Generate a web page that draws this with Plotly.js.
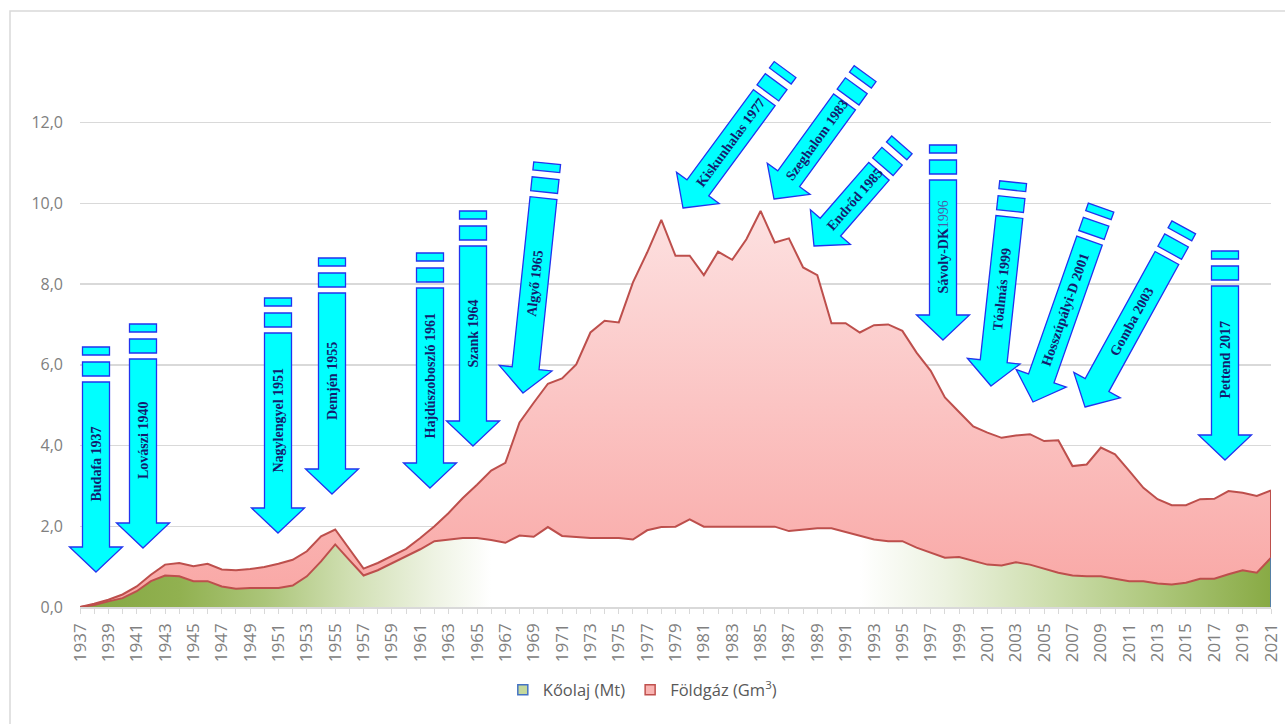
<!DOCTYPE html>
<html>
<head>
<meta charset="utf-8">
<script src="https://cdn.plot.ly/plotly-3.0.1.min.js"></script>
<style>html,body{margin:0;padding:0;background:#fff;}#chart{width:1285px;height:724px;}</style>
</head>
<body>
<div id="chart"></div>
<script>
// ---- data ----
const years = [1937,1938,1939,1940,1941,1942,1943,1944,1945,1946,1947,1948,1949,1950,1951,1952,1953,1954,1955,1956,
1957,1958,1959,1960,1961,1962,1963,1964,1965,1966,1967,1968,1969,1970,1971,1972,1973,1974,1975,1976,
1977,1978,1979,1980,1981,1982,1983,1984,1985,1986,1987,1988,1989,1990,1991,1992,1993,1994,1995,1996,
1997,1998,1999,2000,2001,2002,2003,2004,2005,2006,2007,2008,2009,2010,2011,2012,2013,2014,2015,2016,
2017,2018,2019,2020,2021];
const oilMt = [0.00,0.05,0.14,0.22,0.39,0.64,0.78,0.76,0.64,0.64,0.51,0.45,0.47,0.47,0.47,0.53,0.76,1.13,1.55,1.16,
0.78,0.91,1.08,1.24,1.43,1.63,1.67,1.71,1.71,1.66,1.59,1.77,1.74,1.98,1.76,1.74,1.71,1.71,1.71,1.67,
1.90,1.98,1.99,2.17,1.99,1.99,1.99,1.99,1.99,1.99,1.88,1.92,1.95,1.95,1.86,1.76,1.67,1.63,1.63,1.47,
1.34,1.22,1.24,1.14,1.05,1.03,1.11,1.05,0.95,0.85,0.78,0.76,0.76,0.70,0.64,0.64,0.58,0.56,0.60,0.70,
0.70,0.81,0.91,0.85,1.22];
const gasGm3 = [0.00,0.03,0.04,0.09,0.12,0.16,0.27,0.33,0.37,0.43,0.42,0.46,0.47,0.52,0.60,0.64,0.62,0.62,0.37,0.28,
0.17,0.18,0.18,0.20,0.28,0.37,0.66,0.99,1.32,1.72,1.98,2.80,3.32,3.55,3.90,4.27,5.09,5.38,5.34,6.37,
6.88,7.61,6.71,6.53,6.23,6.81,6.61,7.12,7.82,7.04,7.25,6.49,6.27,5.08,5.17,5.04,5.31,5.37,5.21,4.83,
4.51,3.97,3.59,3.33,3.27,3.16,3.14,3.23,3.16,3.28,2.71,2.77,3.19,3.08,2.73,2.31,2.09,1.96,1.92,1.97,
1.98,2.06,1.92,1.90,1.67];
const seriesNames = ['Kőolaj (Mt)', 'Földgáz (Gm<sup>3</sup>)'];
const yTicks = [0,2,4,6,8,10,12];

// discovery labels for the arrows
const fieldLabels = ['Budafa 1937','Lovászi 1940','Nagylengyel 1951','Demjén 1955','Hajdúszoboszló 1961','Szank 1964',
  'Algyő 1965','Kiskunhalas 1977','Szeghalom 1983','Endrőd 1985','Sávoly-DK 1996','Tóalmás 1999',
  'Hosszúpályi-D 2001','Gomba 2003','Pettend 2017'];

// ---- layout geometry ----
const WIDTH = 1285, HEIGHT = 724;
const M = {l: 80, r: 14, t: 22, b: 117};
const PW = WIDTH - M.l - M.r, PH = HEIGHT - M.t - M.b;
function toPaper(x, y) { return [(x - M.l) / PW, (HEIGHT - M.b - y) / PH]; }

// arrow decoration placement (pixel tip, tilt in degrees, total length)
const arrowPlacement = [
  {tip:[96,572], tilt:0, len:225},
  {tip:[143,548], tilt:0, len:224},
  {tip:[278,533], tilt:0, len:235},
  {tip:[332,494], tilt:0, len:236},
  {tip:[430,488], tilt:0, len:235},
  {tip:[473,446], tilt:0, len:235},
  {tip:[523,393], tilt:6, len:231},
  {tip:[683,208], tilt:36.4, len:172},
  {tip:[774,199], tilt:36, len:155},
  {tip:[814,246], tilt:41, len:134},
  {tip:[943,340], tilt:0, len:195},
  {tip:[991,386], tilt:6.2, len:205},
  {tip:[1033,402], tilt:19.3, len:206},
  {tip:[1085,407], tilt:28.8, len:205},
  {tip:[1225,460], tilt:0, len:209}
];

const ARROW_FILL = '#00ffff', ARROW_LINE = '#2233ee';
const shapes = [];
const annotations = [];

function pathOf(pts) {
  return 'M ' + pts.map(p => { const q = toPaper(p[0], p[1]); return q[0].toFixed(5) + ',' + q[1].toFixed(5); }).join(' L ') + ' Z';
}

arrowPlacement.forEach((a, i) => {
  const phi = a.tilt * Math.PI / 180;
  const u = [Math.sin(phi), -Math.cos(phi)];   // tip -> tail
  const p = [Math.cos(phi), Math.sin(phi)];    // perpendicular
  const T = a.tip;
  const add = (P, k, v) => [P[0] + k * v[0], P[1] + k * v[1]];
  const headLen = 25, headHalf = 26.5, shaftHalf = 13.5;
  const shaftLen = a.len - 60;
  const Hb = add(T, headLen, u);
  const S = add(Hb, shaftLen, u);
  const arrowPts = [
    T,
    add(Hb, headHalf, p),
    add(Hb, shaftHalf, p),
    add(S, shaftHalf, p),
    add(S, -shaftHalf, p),
    add(Hb, -shaftHalf, p),
    add(Hb, -headHalf, p)
  ];
  shapes.push({type:'path', xref:'paper', yref:'paper', path: pathOf(arrowPts),
    fillcolor: ARROW_FILL, line:{color: ARROW_LINE, width:1.3}, layer:'above'});
  const rect = (from, to) => {
    const A = add(S, from, u), B = add(S, to, u);
    return [add(A, shaftHalf, p), add(B, shaftHalf, p), add(B, -shaftHalf, p), add(A, -shaftHalf, p)];
  };
  shapes.push({type:'path', xref:'paper', yref:'paper', path: pathOf(rect(6, 20)),
    fillcolor: ARROW_FILL, line:{color: ARROW_LINE, width:1.3}, layer:'above'});
  shapes.push({type:'path', xref:'paper', yref:'paper', path: pathOf(rect(27, 35)),
    fillcolor: ARROW_FILL, line:{color: ARROW_LINE, width:1.3}, layer:'above'});

  const C = add(Hb, shaftLen / 2, u);
  const cp = toPaper(C[0], C[1]);
  const ang = Math.atan2(-Math.cos(phi), Math.sin(phi)) * 180 / Math.PI;
  const label = fieldLabels[i];
  let txt;
  if (label.indexOf('Sávoly') === 0) {
    const parts = label.split(' ');
    txt = '<b>' + parts[0] + '</b><span style="color:#4a5ca6">' + parts[1] + '</span>';
  } else {
    txt = '<b>' + label + '</b>';
  }
  annotations.push({xref:'paper', yref:'paper', x: cp[0], y: cp[1], text: txt, showarrow:false,
    textangle: ang, xanchor:'center', yanchor:'middle',
    font:{family:'Liberation Serif, Times New Roman, serif', size:14, color:'#141c6e'}});
});

// outer frame
(function(){
  const a = toPaper(10, 11), b = toPaper(1300, 735);
  shapes.unshift({type:'rect', xref:'paper', yref:'paper', x0:a[0], y0:b[1], x1:b[0], y1:a[1],
    line:{color:'#d9d9d9', width:1.5}, fillcolor:'rgba(0,0,0,0)', layer:'below'});
})();

// right edge outlines at the last year
const lastYear = years[years.length - 1];
const lastOil = oilMt[oilMt.length - 1];
const lastTotal = lastOil + gasGm3[gasGm3.length - 1];
shapes.push({type:'line', xref:'x', yref:'y', x0:lastYear, x1:lastYear, y0:0, y1:lastOil,
  line:{color:'#4472c4', width:1.5}, layer:'above'});
shapes.push({type:'line', xref:'x', yref:'y', x0:lastYear, x1:lastYear, y0:lastOil, y1:lastTotal,
  line:{color:'#bd4f4c', width:2}, layer:'above'});

const yr = v => (v - years[0]) / (lastYear - years[0]);
const traces = [
  {x: years, y: oilMt, type:'scatter', mode:'lines', stackgroup:'prod', name: seriesNames[0], showlegend:false,
   line:{color:'#bd4f4c', width:2, shape:'linear'},
   fillgradient:{type:'horizontal', start: years[0], stop: lastYear, colorscale:[
     [0,'#84a641'],[yr(1944),'#91b150'],[yr(1950),'#abc579'],[yr(1956),'#d0dfb2'],[yr(1962),'#eef3e3'],
     [yr(1966),'#ffffff'],[yr(1992),'#ffffff'],[yr(1998),'#ecf2e0'],[yr(2005),'#cfdfb0'],[yr(2013),'#adc77b'],[1,'#88aa44']]}},
  {x: years, y: gasGm3, type:'scatter', mode:'lines', stackgroup:'prod', name: seriesNames[1], showlegend:false,
   line:{color:'#bd4f4c', width:2, shape:'linear'},
   fillgradient:{type:'vertical', start:0, stop:10, colorscale:[[0,'#f9a6a4'],[1,'#fde2e2']]}},
  {x:[null], y:[null], type:'scatter', mode:'markers', name: seriesNames[0],
   marker:{symbol:'square', size:10, color:'#c4d89c', line:{color:'#4472c4', width:1.5}}},
  {x:[null], y:[null], type:'scatter', mode:'markers', name: seriesNames[1],
   marker:{symbol:'square', size:10, color:'#f9b4b2', line:{color:'#c0504d', width:1.5}}}
];

const layout = {
  width: WIDTH, height: HEIGHT,
  margin: M,
  paper_bgcolor:'#ffffff', plot_bgcolor:'#ffffff',
  separators: ', ',
  font:{family:'Open Sans, Noto Sans, sans-serif', color:'#7f7f7f'},
  xaxis:{range:[years[0], lastYear], tick0: years[0], dtick:2, tickangle:-90,
    showgrid:false, zeroline:false, showline:true, linecolor:'#d9d9d9', linewidth:1.5,
    ticks:'outside', ticklen:5, tickcolor:'#d9d9d9', tickwidth:1,
    minor:{dtick:1, ticks:'outside', ticklen:5, tickcolor:'#d9d9d9', tickwidth:1},
    tickfont:{size:17, color:'#808080'}, ticklabelstandoff:3, fixedrange:true},
  yaxis:{range:[0, 14.49], tickvals: yTicks, tickformat:'.1f',
    showgrid:true, gridcolor:'#d9d9d9', gridwidth:1.5, zeroline:false, showline:false,
    ticks:'', tickfont:{size:16, color:'#808080'}, ticklabelstandoff:16, fixedrange:true},
  showlegend:true,
  legend:{orientation:'h', x:0.355, xanchor:'left', y:-0.142, yanchor:'middle',
    font:{size:16.5, color:'#595959'}, bgcolor:'rgba(0,0,0,0)', itemwidth:30, traceorder:'normal'},
  shapes: shapes,
  annotations: annotations
};

Plotly.newPlot('chart', traces, layout, {displayModeBar:false, staticPlot:true});
</script>
</body>
</html>
